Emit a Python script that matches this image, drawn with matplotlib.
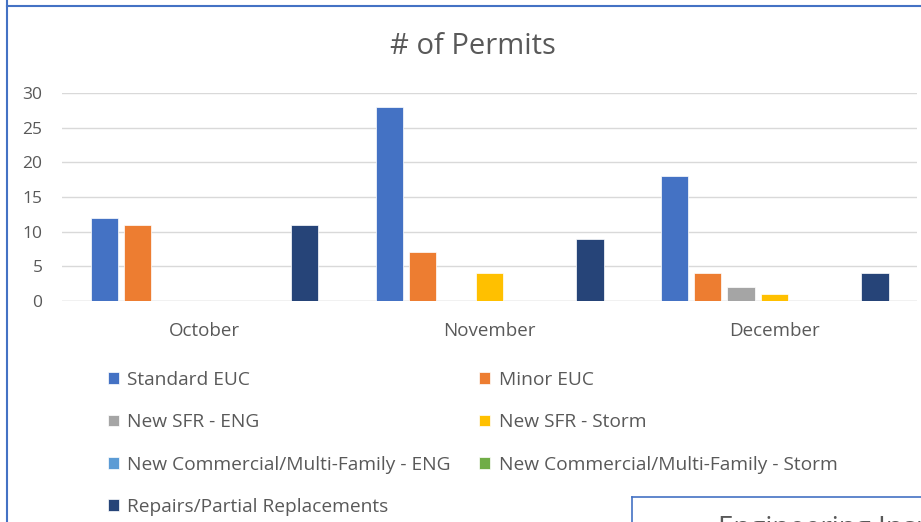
import numpy as np
import matplotlib.pyplot as plt
from matplotlib.lines import Line2D

plt.rcParams['font.family'] = ['Open Sans', 'DejaVu Sans']

months = ["October", "November", "December"]
series = ["Standard EUC", "Minor EUC", "New SFR - ENG", "New SFR - Storm",
          "New Commercial/Multi-Family - ENG", "New Commercial/Multi-Family - Storm",
          "Repairs/Partial Replacements"]
standard_euc = [12, 28, 18]
minor_euc = [11, 7, 4]
sfr_eng = [0, 0, 2]
sfr_storm = [0, 4, 1]
comm_eng = [0, 0, 0]
comm_storm = [0, 0, 0]
repairs = [11, 9, 4]
colors = ["#4472C4", "#ED7D31", "#A5A5A5", "#FFC000", "#5B9BD5", "#70AD47", "#264478"]

values = [standard_euc, minor_euc, sfr_eng, sfr_storm, comm_eng, comm_storm, repairs]
txt = "#595959"

fig = plt.figure(figsize=(9.21, 5.22), dpi=100)
ax = fig.add_axes([62/921, 1 - 301/522, (917 - 62)/921, (301 - 93)/522])

x = np.arange(len(months))
slot = 0.1175
w = 0.095
handles = []
for i, (name, vals, c) in enumerate(zip(series, values, colors)):
    b = ax.bar(x + (i - 3) * slot, vals, w, color=c, label=name,
               edgecolor="white", linewidth=0.5, zorder=3)
    handles.append(b)

ax.set_xlim(-0.5, 2.5)
ax.set_ylim(0, 30)
ax.set_yticks(range(0, 31, 5))
ax.yaxis.grid(True, color="#d9d9d9", lw=1, zorder=0)
ax.set_axisbelow(True)
for s in ax.spines.values():
    s.set_visible(False)
ax.axhline(0, color="#d9d9d9", lw=1, zorder=1)
ax.set_xticks(x)
ax.set_xticklabels(months)
ax.tick_params(axis="both", length=0, colors=txt, labelsize=12.5)
ax.tick_params(axis="x", pad=15, labelsize=13.5)
ax.tick_params(axis="y", pad=14)

fig.text(473/921, 1 - 46/522, "# of Permits", ha="center", va="center",
         fontsize=21, color=txt)

order = [0, 2, 4, 6, 1, 3, 5]
leg = fig.legend([handles[i] for i in order], [series[i] for i in order],
                 ncol=2, loc="upper left", bbox_to_anchor=(108/921, 1 - 371/522),
                 frameon=False, fontsize=13.8, handlelength=0.55, handleheight=0.55,
                 handletextpad=0.45, labelspacing=1.27, columnspacing=1.5,
                 borderpad=0, borderaxespad=0)
for t in leg.get_texts():
    t.set_color(txt)

# surrounding frames from the dashboard
blue = "#4472C4"
fig.add_artist(Line2D([7/921, 7/921], [0, 1], color=blue, lw=1.5))
fig.add_artist(Line2D([7/921, 1], [1 - 6/522, 1 - 6/522], color=blue, lw=1.5))
fig.add_artist(Line2D([632/921, 632/921], [0, 1 - 497/522], color=blue, lw=1.2))
fig.add_artist(Line2D([632/921, 1], [1 - 497/522, 1 - 497/522], color=blue, lw=1.2))
fig.text(718/921, 1 - 515/522, "Engineering Inspections", ha="left", va="top",
         fontsize=20, color=txt)

fig.savefig("out.png", dpi=100)
